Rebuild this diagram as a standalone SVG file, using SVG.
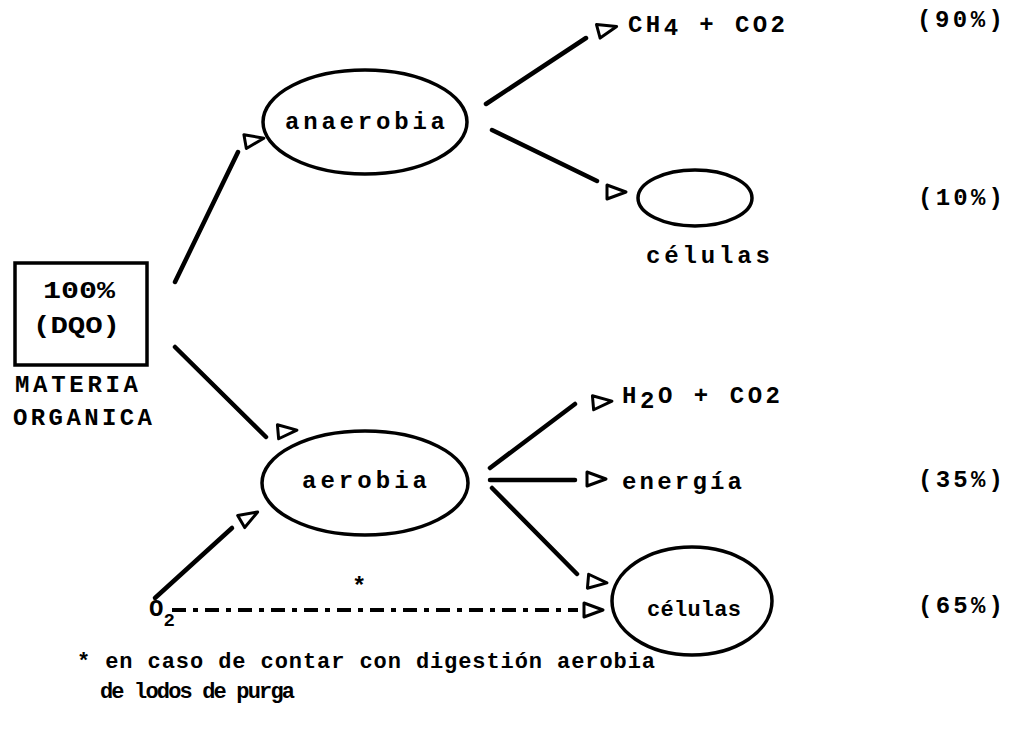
<svg xmlns="http://www.w3.org/2000/svg" width="1009" height="745" viewBox="0 0 1009 745">
<style>
text{font-family:"Liberation Mono","DejaVu Sans Mono",monospace;font-weight:bold;font-size:24px;fill:#000}
.sm{font-size:22px}
.ln{stroke:#000;stroke-width:4.5;stroke-linecap:round;fill:none}
.dash{stroke:#000;stroke-width:4;fill:none;stroke-dasharray:14 7 5 7}
.nd{stroke:#000;stroke-width:3.5;fill:#fff}
.ah{stroke:#000;stroke-width:3;fill:#fff;stroke-linejoin:round}
</style>
<defs>
<path id="tri" class="ah" d="M-9,-7 L10,0 L-9,7 Z"/>
</defs>
<rect width="1009" height="745" fill="#fff"/>
<g id="connectors">
<line class="ln" x1="175" y1="282" x2="238" y2="152"/>
<line class="ln" x1="175" y1="347" x2="266" y2="437"/>
<line class="ln" x1="486" y1="104" x2="586" y2="38"/>
<line class="ln" x1="492" y1="130" x2="597" y2="181"/>
<line class="ln" x1="490" y1="468" x2="575" y2="404"/>
<line class="ln" x1="490" y1="480" x2="575" y2="480"/>
<line class="ln" x1="492" y1="488" x2="577" y2="574"/>
<line class="ln" x1="155" y1="598" x2="232" y2="528"/>
<line class="dash" x1="172" y1="610" x2="578" y2="610"/>
<use href="#tri" transform="translate(254,140) rotate(-10)"/>
<use href="#tri" transform="translate(287,431) rotate(-5)"/>
<use href="#tri" transform="translate(607,29) rotate(-15)"/>
<use href="#tri" transform="translate(616,192) rotate(0)"/>
<use href="#tri" transform="translate(602,402) rotate(-5)"/>
<use href="#tri" transform="translate(596,479)"/>
<use href="#tri" transform="translate(597,582) rotate(5)"/>
<use href="#tri" transform="translate(249,517) rotate(-30)"/>
<use href="#tri" transform="translate(593,610)"/>
</g>
<g id="materia">
<rect class="nd" x="15" y="263" width="132" height="102"/>
<text x="43" y="298" textLength="72" lengthAdjust="spacingAndGlyphs">100%</text>
<text x="33" y="333" textLength="87" lengthAdjust="spacingAndGlyphs">(DQO)</text>
<text x="15" y="392" textLength="123" lengthAdjust="spacing">MATERIA</text>
<text x="13" y="425" textLength="139" lengthAdjust="spacing">ORGANICA</text>
</g>
<g id="anaerobia">
<ellipse class="nd" cx="365" cy="122" rx="102" ry="52"/>
<text x="285" y="129" textLength="160" lengthAdjust="spacing">anaerobia</text>
</g>
<g id="aerobia">
<ellipse class="nd" cx="365" cy="483" rx="103" ry="52"/>
<text x="302" y="488" textLength="125" lengthAdjust="spacing">aerobia</text>
</g>
<g id="ch4">
<text x="628" y="32" textLength="157" lengthAdjust="spacing">CH<tspan dy="3">4</tspan><tspan dy="-3"> + CO2</tspan></text>
</g>
<g id="celulas1">
<ellipse class="nd" cx="695" cy="198" rx="57" ry="28"/>
<text x="646" y="263" textLength="124" lengthAdjust="spacing">células</text>
</g>
<g id="h2o">
<text x="622" y="403" textLength="158" lengthAdjust="spacing">H<tspan dy="5">2</tspan><tspan dy="-5">O + CO2</tspan></text>
</g>
<g id="energia">
<text x="622" y="489" textLength="120" lengthAdjust="spacing">energía</text>
</g>
<g id="celulas2">
<ellipse class="nd" cx="692" cy="601" rx="80" ry="54"/>
<text x="647" y="616" textLength="94" lengthAdjust="spacing" class="sm">células</text>
</g>
<g id="o2">
<text x="149" y="616" font-size="24">O<tspan dy="10" font-size="19">2</tspan></text>
</g>
<g id="percent">
<text x="917" y="27" textLength="86" lengthAdjust="spacing">(90%)</text>
<text x="918" y="205" textLength="85" lengthAdjust="spacing">(10%)</text>
<text x="918" y="487" textLength="85" lengthAdjust="spacing">(35%)</text>
<text x="918" y="613" textLength="85" lengthAdjust="spacing">(65%)</text>
</g>
<g id="footnote">
<text x="352" y="594" font-size="18">*</text>
<text x="77" y="668" textLength="578" lengthAdjust="spacing" class="sm">* en caso de contar con digestión aerobia</text>
<text x="100" y="698" textLength="195" lengthAdjust="spacing" class="sm">de lodos de purga</text>
</g>
</svg>
